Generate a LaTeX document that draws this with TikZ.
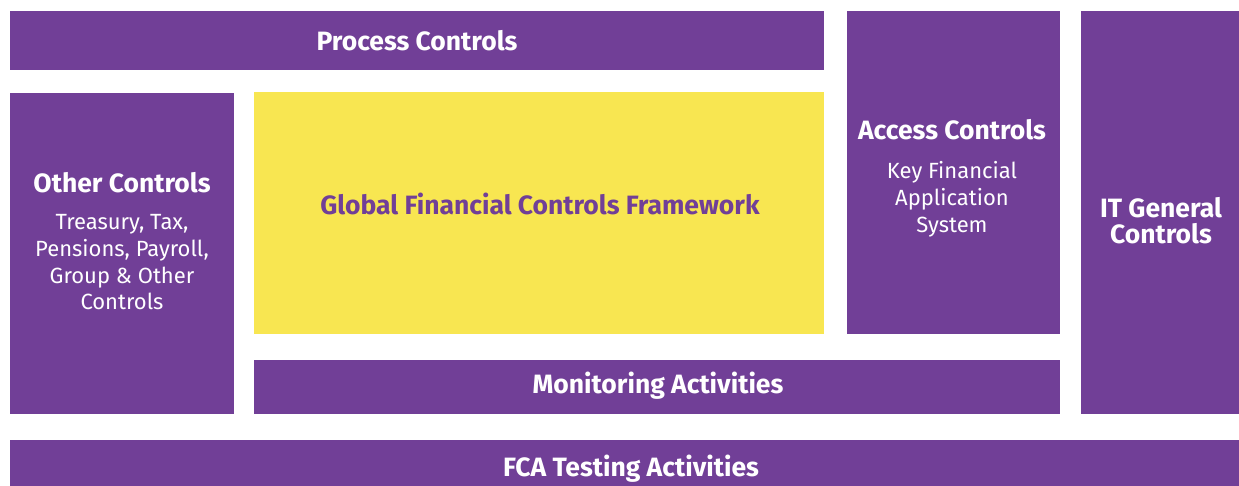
\documentclass[tikz,border=0pt]{standalone}
\usepackage{fontspec}
\setmainfont{Fira Sans}
\usetikzlibrary{positioning}
\definecolor{aviva}{HTML}{713F97}
\definecolor{sunny}{HTML}{F8E651}
\tikzset{
  title/.style={align=center, text=white, inner sep=0pt, font=\bfseries\fontsize{26.5}{26}\selectfont},
  note/.style={align=center, text=white, inner sep=0pt, font=\fontsize{22}{26.6}\selectfont}
}

\begin{document}
\begin{tikzpicture}[x=1pt,y=-1pt]
\useasboundingbox (0,0) rectangle (1239,486);

% blocks
\fill[aviva] (10,11) rectangle (824,70);
\fill[aviva] (847,11) rectangle (1060,334);
\fill[aviva] (1081,11) rectangle (1239,414);
\fill[aviva] (10,93) rectangle (234,414);
\fill[sunny] (254,92) rectangle (824,334);
\fill[aviva] (254,360) rectangle (1060,414);
\fill[aviva] (10,440) rectangle (1239,486);

% labels
\node[title] (process) at (417,41) {Process Controls};
\node[title] (other) at (122,183) {Other Controls};
\node[note, below=21pt of other] (otherlist) {Treasury, Tax,\\Pensions, Payroll,\\Group \& Other\\Controls};
\node[title, text=aviva] (gfcf) at (540,204) {Global Financial Controls Framework};
\node[title] (access) at (952,130) {Access Controls};
\node[note, below=21pt of access] (accesslist) {Key Financial\\Application\\System};
\node[title] (itgc) at (1161,221) {IT General\\Controls};
\node[title] (monitor) at (658,386) {Monitoring Activities};
\node[title] (fca) at (631,468.5) {FCA Testing Activities};
\end{tikzpicture}
\end{document}
